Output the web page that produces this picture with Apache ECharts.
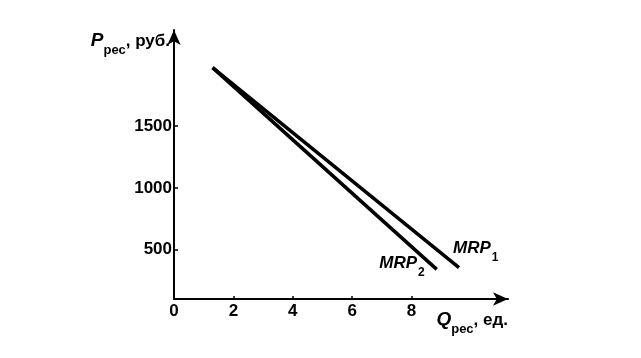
<!DOCTYPE html>
<html><head><meta charset="utf-8">
<script src="https://cdn.jsdelivr.net/npm/echarts@6/dist/echarts.min.js"></script>
<style>html,body{margin:0;padding:0;background:#fff}#c{width:641px;height:358px}</style>
</head><body><div id="c"></div>
<script>
// Data
const xTickValues = [0, 2, 4, 6, 8];
const yTickValues = [500, 1000, 1500];
const mrp1Q = [1.3, 9.6];
const mrp1P = [1975, 355];
const mrp2Q = [1.3, 8.85];
const mrp2P = [1975, 340];
const seriesNames = ['MRP1', 'MRP2'];

const chart = echarts.init(document.getElementById('c'));
const FONT = 'Liberation Sans, Arial, sans-serif';
const lblRich = {
  m: {fontFamily: FONT, fontStyle: 'italic', fontWeight: 'bold', fontSize: 17, color: '#000', lineHeight: 20, verticalAlign: 'top'},
  s: {fontFamily: FONT, fontWeight: 'bold', fontSize: 12, color: '#000', lineHeight: 12, padding: [12, 0, 0, 1], verticalAlign: 'top'}
};
const nameRich = {
  p: {fontFamily: FONT, fontStyle: 'italic', fontWeight: 'bold', fontSize: 19, color: '#000', lineHeight: 22, verticalAlign: 'top'},
  s: {fontFamily: FONT, fontWeight: 'bold', fontSize: 13, color: '#000', lineHeight: 13, padding: [13, 0, 0, 0], verticalAlign: 'top'},
  n: {fontFamily: FONT, fontWeight: 'bold', fontSize: 17, color: '#000', lineHeight: 22, verticalAlign: 'top', padding: [2, 0, 0, 0]}
};
function build(qs, ps, labelCfg) {
  return qs.map((q, i) => {
    const item = {value: [q, ps[i]]};
    if (i === qs.length - 1) item.label = labelCfg;
    return item;
  });
}
chart.setOption({
  animation: false,
  backgroundColor: '#fff',
  grid: {left: 174, right: 133, top: 30, bottom: 59, containLabel: false},
  xAxis: {
    type: 'value', min: 0, max: 11.25,
    axisLine: {show: true, symbol: ['none', 'arrow'], symbolSize: [10, 15], lineStyle: {color: '#000', width: 2}},
    axisTick: {show: true, inside: true, length: 3, customValues: [2, 4, 6, 8], lineStyle: {color: '#000', width: 1.5}},
    axisLabel: {customValues: xTickValues, formatter: v => String(v), color: '#000', fontFamily: FONT, fontWeight: 'bold', fontSize: 17, margin: 4},
    splitLine: {show: false},
    name: '{p|Q}{s|рес}{n|, ед.}',
    nameLocation: 'end', nameGap: 0,
    nameTextStyle: {align: 'right', verticalAlign: 'top', padding: [11, 0, 0, 0], rich: nameRich}
  },
  yAxis: {
    type: 'value', min: 100, max: 2280,
    axisLine: {show: true, symbol: ['none', 'arrow'], symbolSize: [10, 15], lineStyle: {color: '#000', width: 2}},
    axisTick: {show: true, inside: true, length: 4, customValues: yTickValues, lineStyle: {color: '#000', width: 1.5}},
    axisLabel: {customValues: yTickValues, formatter: v => String(v), color: '#000', fontFamily: FONT, fontWeight: 'bold', fontSize: 17, margin: 2},
    splitLine: {show: false},
    name: '{p|P}{s|рес}{n|, руб.}',
    nameLocation: 'end', nameGap: -12,
    nameTextStyle: {align: 'right', verticalAlign: 'middle', padding: [0, 4, 0, 0], rich: nameRich}
  },
  series: [
    {
      name: seriesNames[0], type: 'line', symbol: 'circle', showSymbol: true, symbolSize: 0.01,
      itemStyle: {color: 'rgba(0,0,0,0)'},
      lineStyle: {color: '#000', width: 3.5},
      data: build(mrp1Q, mrp1P, {show: true, position: 'inside', align: 'left', verticalAlign: 'middle', offset: [-6, -18],
        formatter: '{m|MRP}{s|1}', rich: lblRich})
    },
    {
      name: seriesNames[1], type: 'line', symbol: 'circle', showSymbol: true, symbolSize: 0.01,
      itemStyle: {color: 'rgba(0,0,0,0)'},
      lineStyle: {color: '#000', width: 3.5},
      data: build(mrp2Q, mrp2P, {show: true, position: 'inside', align: 'right', verticalAlign: 'middle', offset: [-12, -5],
        formatter: '{m|MRP}{s|2}', rich: lblRich})
    }
  ]
});
</script></body></html>
